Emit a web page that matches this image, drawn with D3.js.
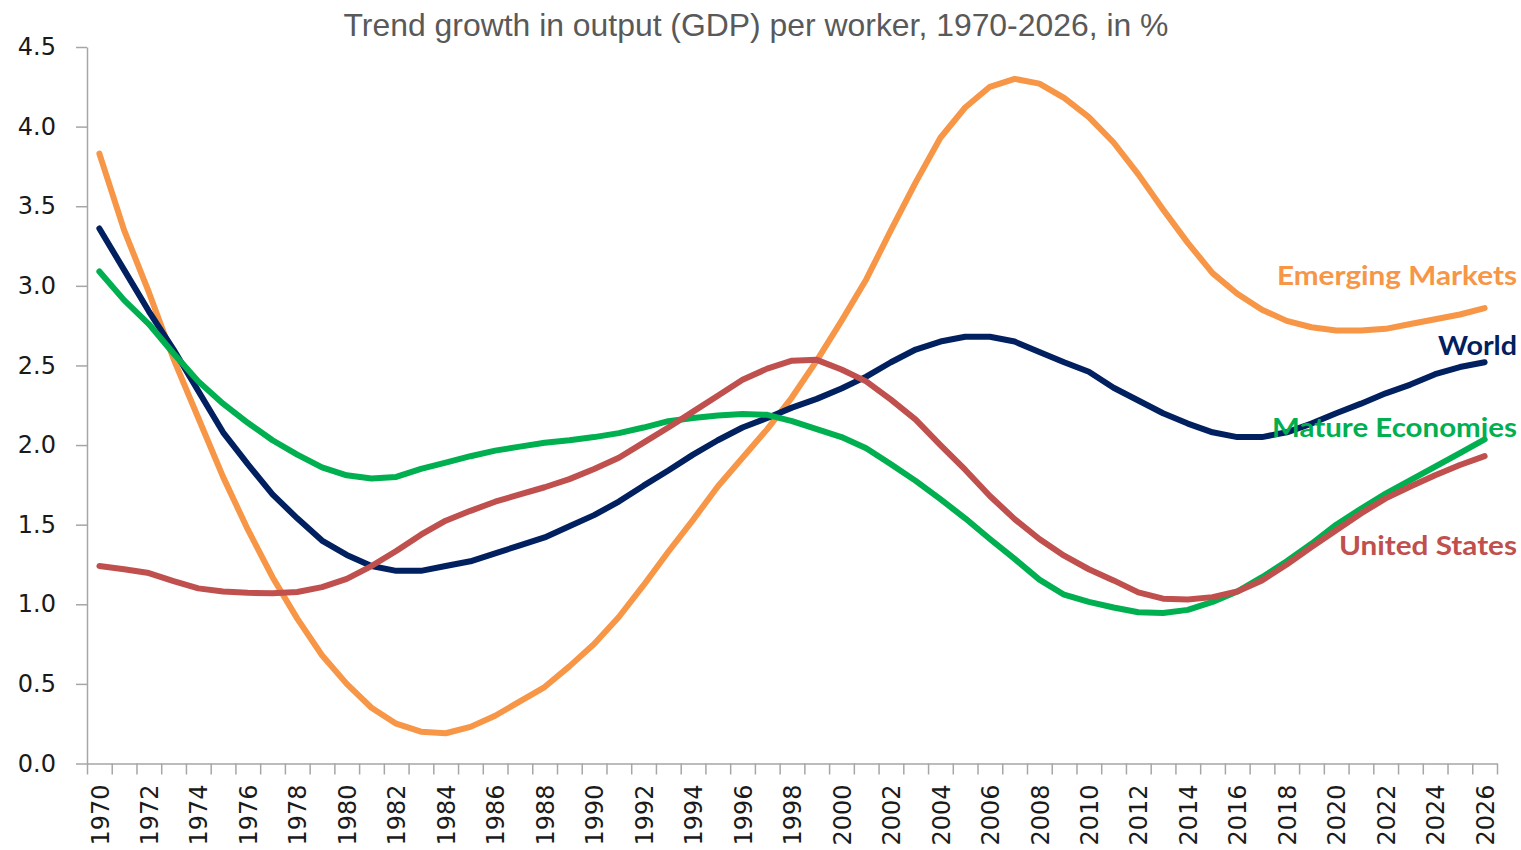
<!DOCTYPE html>
<html>
<head>
<meta charset="utf-8">
<script src="https://cdn.jsdelivr.net/npm/d3@7"></script>
<style>
	body { margin: 0; background: #fff; }
	svg { display: block; }
</style>
</head>
<body>
<svg id="chart"></svg>
<script>
let years = d3.range(1970, 2027);
let yearLabels = d3.range(1970, 2027, 2);
let yTicks = [0, 0.5, 1, 1.5, 2, 2.5, 3, 3.5, 4, 4.5];

let emerging = [3.83,3.35,2.96,2.54,2.17,1.80,1.47,1.17,0.91,0.68,
	0.50,0.35,0.25,0.20,0.19,0.23,0.30,0.39,0.48,0.61,
	0.75,0.92,1.12,1.33,1.53,1.74,1.92,2.10,2.30,2.53,
	2.78,3.04,3.35,3.65,3.93,4.12,4.25,4.30,4.27,4.18,
	4.06,3.90,3.70,3.48,3.27,3.08,2.95,2.85,2.78,2.74,
	2.72,2.72,2.73,2.76,2.79,2.82,2.86];
let world = [3.36,3.10,2.84,2.60,2.34,2.08,1.88,1.69,1.54,1.40,
	1.31,1.24,1.21,1.21,1.24,1.27,1.32,1.37,1.42,1.49,
	1.56,1.645,1.745,1.84,1.94,2.03,2.11,2.17,2.235,2.29,
	2.355,2.43,2.52,2.60,2.65,2.68,2.68,2.65,2.585,2.52,
	2.46,2.36,2.28,2.20,2.135,2.08,2.05,2.05,2.08,2.135,
	2.20,2.26,2.325,2.38,2.445,2.49,2.52];
let mature = [3.09,2.91,2.76,2.575,2.40,2.26,2.14,2.03,1.94,1.86,
	1.81,1.79,1.80,1.85,1.89,1.93,1.965,1.99,2.015,2.03,
	2.05,2.075,2.11,2.15,2.17,2.185,2.195,2.19,2.15,2.10,
	2.05,1.98,1.88,1.775,1.66,1.54,1.41,1.285,1.155,1.06,
	1.015,0.98,0.95,0.945,0.965,1.015,1.08,1.17,1.27,1.38,
	1.50,1.60,1.695,1.78,1.865,1.95,2.035];
let us = [1.24,1.22,1.196,1.146,1.10,1.08,1.072,1.07,1.077,1.108,
	1.16,1.24,1.335,1.437,1.525,1.587,1.644,1.69,1.735,1.786,
	1.85,1.92,2.015,2.11,2.21,2.31,2.41,2.48,2.53,2.535,
	2.475,2.40,2.285,2.16,2.00,1.845,1.68,1.535,1.41,1.305,
	1.22,1.15,1.075,1.035,1.03,1.045,1.08,1.15,1.25,1.36,
	1.465,1.57,1.665,1.74,1.81,1.875,1.93];

let seriesNames = ['Emerging Markets', 'World', 'Mature Economies', 'United States'];
let seriesValues = [emerging, world, mature, us];

function makeChart() {
	let w = 1521;
	let h = 850;
	let left = 87, right = 1497, top = 47, bottom = 763.5;

	var colors = ['#F79646', '#002060', '#00B050', '#C0504D'];
	// label baselines and widths, picked to sit where the reference puts them
	var labelY = [285, 355, 437, 555];
	var labelW = [240, 79, 245, 178];

	let chart = d3.select('#chart')
		.attr('width', w)
		.attr('height', h);

	let x = d3.scaleLinear()
		.domain([years[0] - 0.5, years[years.length - 1] + 0.5])
		.range([left, right]);

	let y = d3.scaleLinear()
		.domain([0, 4.5])
		.range([bottom, top]);

	chart.append('text')
		.attr('x', 756)
		.attr('y', 36)
		.attr('text-anchor', 'middle')
		.attr('font-family', 'Liberation Sans, Arial, sans-serif')
		.attr('font-size', 31.9)
		.attr('fill', '#595959')
		.text('Trend growth in output (GDP) per worker, 1970-2026, in %');

	//Y AXIS
	let yAxis = chart.append('g')
		.attr('transform', `translate(${left},0)`)
		.call(d3.axisLeft(y)
			.tickValues(yTicks)
			.tickSize(11)
			.tickSizeOuter(0)
			.tickPadding(20)
			.tickFormat(d3.format('.1f')));
	yAxis.selectAll('text')
		.attr('font-family', 'DejaVu Sans, sans-serif')
		.attr('font-size', 24)
		.attr('fill', '#1a1a1a');

	//X AXIS: ticks between years, labels every other year
	chart.append('g')
		.attr('transform', `translate(0,${bottom})`)
		.call(d3.axisBottom(x)
			.tickValues(years.map(d => d - 0.5).concat([years[years.length - 1] + 0.5]))
			.tickSize(11)
			.tickSizeOuter(0)
			.tickFormat(''));

	let xLabelAxis = chart.append('g')
		.attr('transform', `translate(0,${bottom})`)
		.call(d3.axisBottom(x)
			.tickValues(yearLabels)
			.tickSize(0)
			.tickFormat(d3.format('d')));
	xLabelAxis.select('.domain').remove();
	xLabelAxis.selectAll('text')
		.attr('transform', 'rotate(-90)')
		.attr('x', -21)
		.attr('y', 0)
		.attr('dy', '0.36em')
		.attr('text-anchor', 'end')
		.attr('font-family', 'DejaVu Sans, sans-serif')
		.attr('font-size', 24)
		.attr('fill', '#1a1a1a');

	chart.selectAll('.domain, .tick line')
		.attr('stroke', '#a6a6a6')
		.attr('stroke-width', 1.5);

	let line = d3.line()
		.x((d, i) => x(years[i]))
		.y(d => y(d));

	chart.append('g')
		.selectAll('path')
		.data(seriesValues)
		.enter()
		.append('path')
		.attr('d', line)
		.attr('fill', 'none')
		.attr('stroke', (d, i) => colors[i])
		.attr('stroke-width', 6)
		.attr('stroke-linecap', 'round')
		.attr('stroke-linejoin', 'round');

	//LABELS
	chart.append('g')
		.selectAll('text')
		.data(seriesNames)
		.enter()
		.append('text')
		.attr('x', 1517)
		.attr('y', (d, i) => labelY[i])
		.attr('text-anchor', 'end')
		.attr('font-family', 'Lato, sans-serif')
		.attr('font-weight', 'bold')
		.attr('font-size', 27)
		.attr('textLength', (d, i) => labelW[i])
		.attr('lengthAdjust', 'spacingAndGlyphs')
		.attr('fill', (d, i) => colors[i])
		.text(d => d);
}

window.onload = function () {
	makeChart();
}
</script>
</body>
</html>
